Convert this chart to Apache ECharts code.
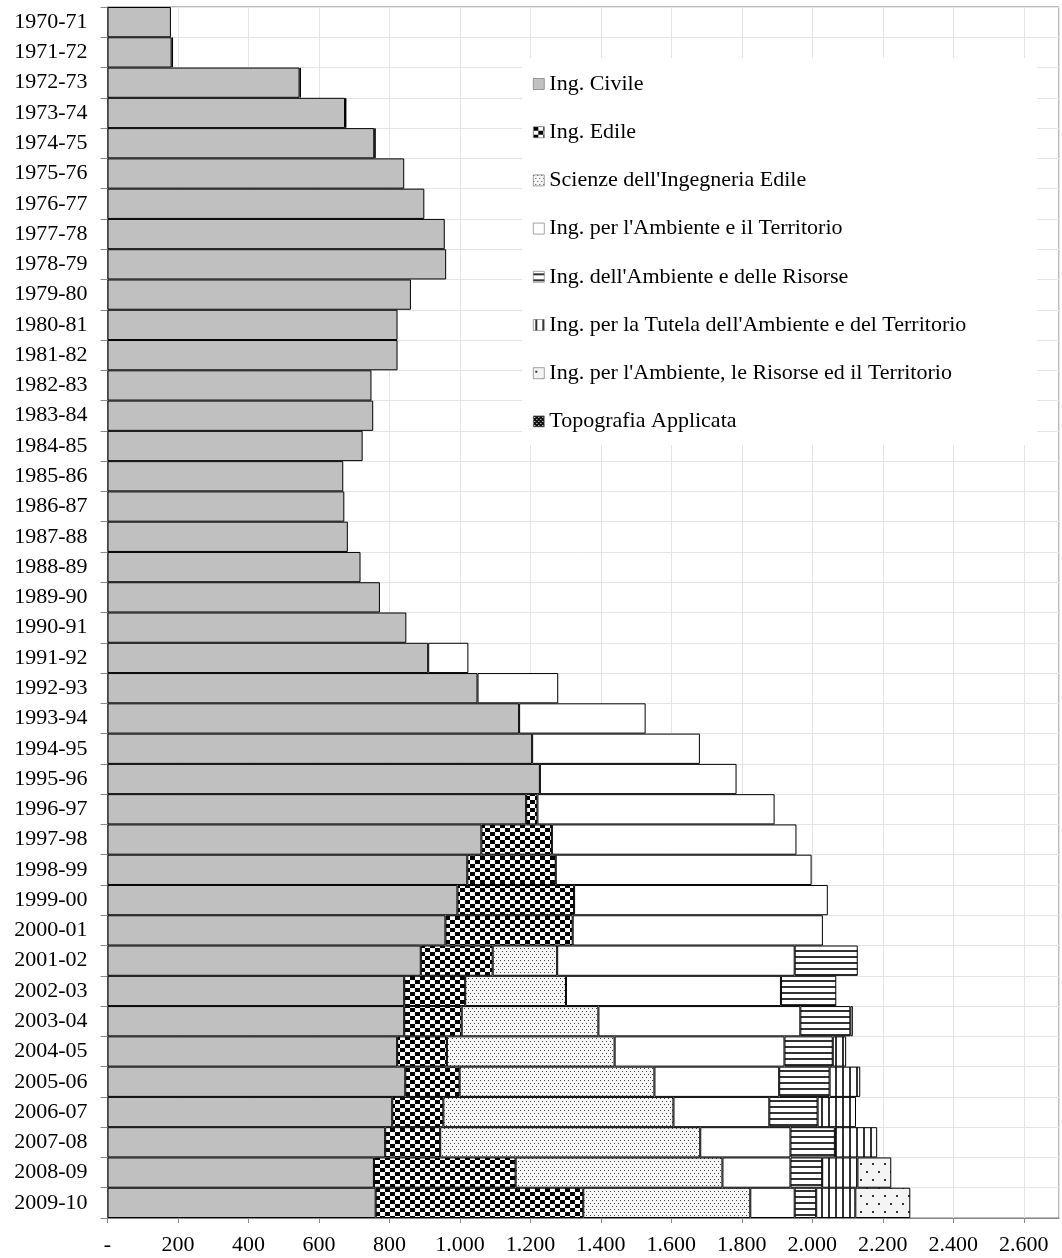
<!DOCTYPE html>
<html>
<head>
<meta charset="utf-8">
<script src="https://cdn.jsdelivr.net/npm/echarts@6/dist/echarts.min.js"></script>
<style>
html, body { margin: 0; padding: 0; background: #fff; }
#chart { width: 1062px; height: 1258px; }
</style>
</head>
<body>
<div id="chart"></div>
<script>
var years = ['1970-71','1971-72','1972-73','1973-74','1974-75','1975-76','1976-77','1977-78','1978-79','1979-80',
	'1980-81','1981-82','1982-83','1983-84','1984-85','1985-86','1986-87','1987-88','1988-89','1989-90',
	'1990-91','1991-92','1992-93','1993-94','1994-95','1995-96','1996-97','1997-98','1998-99','1999-00',
	'2000-01','2001-02','2002-03','2003-04','2004-05','2005-06','2006-07','2007-08','2008-09','2009-10'];

var seriesNames = ['Ing. Civile', 'Ing. Edile', "Scienze dell'Ingegneria Edile", "Ing. per l'Ambiente e il Territorio",
	"Ing. dell'Ambiente e delle Risorse", "Ing. per la Tutela dell'Ambiente e del Territorio",
	"Ing. per l'Ambiente, le Risorse ed il Territorio", 'Topografia Applicata'];

var _ = null;
var civile = [180,182,545,674,757,842,899,957,961,861,823,823,749,754,724,669,672,682,718,773,
	848,910,1050,1168,1205,1227,1188,1061,1021,993,959,889,842,842,822,845,808,788,756,761];
var edile = [_,_,_,_,_,_,_,_,_,_,_,_,_,_,_,_,_,_,_,_,
	_,_,_,_,_,_,32,200,251,331,361,204,173,163,141,154,145,156,402,589];
var scienze = [_,_,_,_,_,_,_,_,_,_,_,_,_,_,_,_,_,_,_,_,
	_,_,_,_,_,_,_,_,_,_,_,183,286,388,476,553,653,738,587,474];
var territorio = [_,_,_,_,_,_,_,_,_,_,_,_,_,_,_,_,_,_,_,_,
	_,114,229,359,476,558,673,694,726,720,710,674,610,573,482,354,272,256,193,126];
var risorse = [_,_,_,_,_,_,_,_,_,_,_,_,_,_,_,_,_,_,_,_,
	_,_,_,_,_,_,_,_,_,_,_,179,157,142,137,143,137,126,90,61];
var tutela = [_,_,_,_,_,_,_,_,_,_,_,_,_,_,_,_,_,_,_,_,
	_,_,_,_,_,_,_,_,_,_,_,_,_,7,38,87,109,120,100,111];
var arit = [_,_,_,_,_,_,_,_,_,_,_,_,_,_,_,_,_,_,_,_,
	_,_,_,_,_,_,_,_,_,_,_,_,_,_,_,_,_,_,96,156];
var topografia = [_,4,4,4,4,_,_,_,_,_,_,_,_,_,_,_,_,_,_,_,
	_,_,_,_,_,_,_,_,_,_,_,_,_,_,_,_,_,_,_,_];

var FONT = '"Liberation Serif", "DejaVu Serif", serif';

// piccoli pattern in bianco e nero tipo excel
function makePattern(w, h, bg, draw){
	var c = document.createElement('canvas');
	c.width = w;
	c.height = h;
	var ctx = c.getContext('2d');
	ctx.fillStyle = bg;
	ctx.fillRect(0, 0, w, h);
	draw(ctx);
	return { image: c, repeat: 'repeat' };
}

var fills = [
	'#c0c0c0',
	makePattern(10, 8, '#fff', function(ctx){
		ctx.fillStyle = '#000';
		ctx.fillRect(0, 0, 5, 4);
		ctx.fillRect(5, 4, 5, 4);
	}),
	makePattern(4, 6, '#f6f6f6', function(ctx){
		ctx.fillStyle = '#444';
		ctx.fillRect(0, 0, 1, 1);
		ctx.fillRect(2, 3, 1, 1);
	}),
	'#fff',
	makePattern(6, 6, '#fff', function(ctx){
		ctx.fillStyle = '#333';
		ctx.fillRect(0, 2, 6, 2);
	}),
	makePattern(7, 6, '#fff', function(ctx){
		ctx.fillStyle = '#333';
		ctx.fillRect(2, 0, 2, 6);
	}),
	makePattern(12, 16, '#f4f4f4', function(ctx){
		ctx.fillStyle = '#333';
		ctx.fillRect(2, 3, 2, 2);
		ctx.fillRect(8, 11, 2, 2);
	}),
	makePattern(4, 4, '#111', function(ctx){
		ctx.fillStyle = '#fff';
		ctx.fillRect(1, 1, 1, 1);
		ctx.fillRect(3, 3, 1, 1);
	})
];

var values = [civile, edile, scienze, territorio, risorse, tutela, arit, topografia];

function formatThousands(v){
	if(v === 0) return '-';
	if(v >= 1000){
		var rest = String(v % 1000);
		while(rest.length < 3) rest = '0' + rest;
		return Math.floor(v / 1000) + '.' + rest;
	}
	return String(v);
}

var series = [];
for (var i = 0; i < seriesNames.length; i++) {
	series.push({
		name: seriesNames[i],
		type: 'bar',
		stack: 'tot',
		barCategoryGap: 0,
		barWidth: '100%',
		itemStyle: {
			color: fills[i],
			borderColor: '#000',
			borderWidth: 1
		},
		emphasis: { disabled: true },
		data: values[i]
	});
}

var option = {
	animation: false,
	backgroundColor: '#fff',
	grid: {
		left: 107.5,
		right: 3,
		top: 7,
		bottom: 40,
		show: true,
		borderColor: '#777',
		borderWidth: 1
	},
	legend: {
		orient: 'vertical',
		left: 533,
		top: 73,
		icon: 'rect',
		itemWidth: 11,
		itemHeight: 11,
		itemGap: 26.2,
		padding: 0,
		selectedMode: false,
		z: 5,
		itemStyle: {
			borderColor: '#666',
			borderWidth: 0.6
		},
		textStyle: {
			fontFamily: FONT,
			fontSize: 22,
			lineHeight: 20,
			color: '#000'
		},
		data: seriesNames
	},
	graphic: [{
		type: 'rect',
		silent: true,
		z: 3,
		shape: { x: 522, y: 58, width: 515, height: 387 },
		style: { fill: '#fff' }
	}],
	xAxis: {
		type: 'value',
		min: 0,
		max: 2700,
		interval: 200,
		axisLine: { show: true, lineStyle: { color: '#888' } },
		axisTick: { show: true, length: 5, lineStyle: { color: '#888' } },
		splitLine: { show: true, lineStyle: { color: '#e4e4e4' } },
		axisLabel: {
			margin: 16,
			showMaxLabel: false,
			fontFamily: FONT,
			fontSize: 22,
			color: '#000',
			formatter: formatThousands
		}
	},
	yAxis: {
		type: 'category',
		inverse: true,
		data: years,
		axisLine: { show: true, lineStyle: { color: '#888' } },
		axisTick: { show: true, length: 7, interval: 0, lineStyle: { color: '#888' } },
		splitLine: { show: true, interval: 0, lineStyle: { color: '#e4e4e4' } },
		axisLabel: {
			interval: 0,
			margin: 20,
			fontFamily: FONT,
			fontSize: 22,
			color: '#000'
		}
	},
	series: series
};

var myChart = echarts.init(document.getElementById('chart'));
myChart.setOption(option);
</script>
</body>
</html>
